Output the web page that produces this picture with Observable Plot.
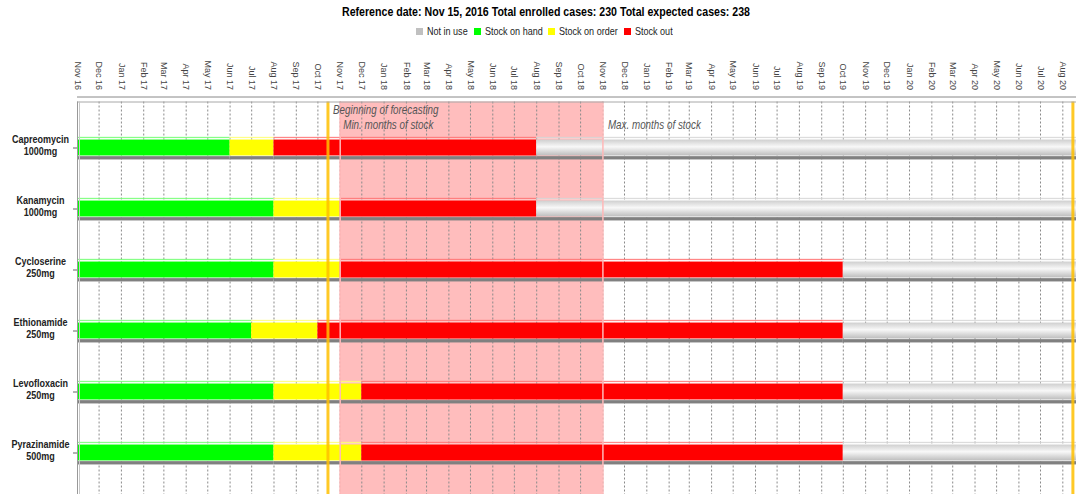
<!DOCTYPE html>
<html><head><meta charset="utf-8">
<script src="https://cdn.jsdelivr.net/npm/d3@7"></script>
<script src="https://cdn.jsdelivr.net/npm/@observablehq/plot@0.6"></script>
<style>
body{margin:0;background:#fff;font-family:'Liberation Sans',Arial,sans-serif;}
#hdr{height:40px;width:1076px;position:relative;}
#title{position:absolute;top:3px;left:342px;white-space:nowrap;font-weight:bold;font-size:13px;line-height:18px;color:#000;transform-origin:0 0;}
#legend{position:absolute;top:24px;left:416px;display:flex;align-items:center;font-size:10.5px;line-height:14px;color:#222;white-space:nowrap;}
.sw{width:7px;height:7px;display:inline-block;margin-right:4px;}
.lt{display:inline-block;transform-origin:0 50%;margin-right:6px;}
#chart svg{display:block}
</style></head><body>
<div id="hdr"><div id="title"></div><div id="legend"></div></div>
<div id="chart"></div>
<script>
// ---- data ----
const titleText = "Reference date: Nov 15, 2016 Total enrolled cases: 230 Total expected cases: 238";
const statuses = ["Not in use", "Stock on hand", "Stock on order", "Stock out"];
const statusColors = ["#c0c0c0", "#00ff00", "#ffff00", "#ff0000"];
const drugs = ["Capreomycin\n1000mg", "Kanamycin\n1000mg", "Cycloserine\n250mg", "Ethionamide\n250mg", "Levofloxacin\n250mg", "Pyrazinamide\n500mg"];
const timelineStart = "2016-11-01";
const timelineEnd = "2020-08-20";
const stockOnHandEnd = ["2017-06-01", "2017-08-01", "2017-08-01", "2017-07-01", "2017-08-01", "2017-08-01"];
const stockOnOrderEnd = ["2017-08-01", "2017-11-01", "2017-11-01", "2017-10-01", "2017-12-01", "2017-12-01"];
const stockOutEnd = ["2018-08-01", "2018-08-01", "2019-10-01", "2019-10-01", "2019-10-01", "2019-10-01"];
const tickLabels = ["Nov 16","Dec 16","Jan 17","Feb 17","Mar 17","Apr 17","May 17","Jun 17","Jul 17","Aug 17","Sep 17","Oct 17",
  "Nov 17","Dec 17","Jan 18","Feb 18","Mar 18","Apr 18","May 18","Jun 18","Jul 18","Aug 18","Sep 18","Oct 18",
  "Nov 18","Dec 18","Jan 19","Feb 19","Mar 19","Apr 19","May 19","Jun 19","Jul 19","Aug 19","Sep 19","Oct 19",
  "Nov 19","Dec 19","Jan 20","Feb 20","Mar 20","Apr 20","May 20","Jun 20","Jul 20","Aug 20"];
const forecastWindow = ["2017-11-01", "2018-11-01"];
const markerDates = ["2017-10-15", "2020-08-15"];
const annotationTexts = ["Beginning of forecasting", "Min. months of stock", "Max. months of stock"];
const annotationDates = ["2017-10-15", "2017-11-01", "2018-11-01"];

// ---- build ----
const FONT = "'Liberation Sans',Arial,sans-serif";
const NARROW = 0.82;
const D = s => new Date(s + "T00:00:00Z");
const colorOf = s => statusColors[statuses.indexOf(s)];
const tickDates = tickLabels.map(d3.utcParse("%b %y"));

// title, fitted to the reference's condensed width
const titleEl = document.getElementById("title");
titleEl.textContent = titleText;
// legend
const leg = document.getElementById("legend");
statuses.forEach((s, i) => {
  const sw = document.createElement("span"); sw.className = "sw"; sw.style.background = statusColors[i];
  const tx = document.createElement("span"); tx.className = "lt"; tx.textContent = s;
  leg.append(sw, tx);
});

const segments = drugs.flatMap((d, i) => [
  {drug: d, start: D(timelineStart), end: D(stockOnHandEnd[i]), status: "Stock on hand"},
  {drug: d, start: D(stockOnHandEnd[i]), end: D(stockOnOrderEnd[i]), status: "Stock on order"},
  {drug: d, start: D(stockOnOrderEnd[i]), end: D(stockOutEnd[i]), status: "Stock out"},
  {drug: d, start: D(stockOutEnd[i]), end: D(timelineEnd), status: "Not in use"}
]);

const step = 61.7, half = step / 2;
const layer = (top, bottom) => ({insetTop: half + top, insetBottom: half - bottom});

const bodyFill = d => d.status === "Not in use" ? "url(#grayGrad)" : colorOf(d.status);
const stripe1 = d => d.status === "Not in use" ? "#d6d6d6" : d3.interpolateRgb(colorOf(d.status), "#fff")(0.45);
const stripe2 = d => d.status === "Not in use" ? "#f4f4f4" : d3.interpolateRgb(colorOf(d.status), "#fff")(0.85);

const top0 = 106, topN = 414.5;
const chart = Plot.plot({
  width: 1076,
  height: 454,
  marginLeft: 77,
  marginRight: 0,
  marginTop: 61.5,
  marginBottom: 0,
  style: {fontFamily: FONT, background: "#fff", overflow: "visible"},
  x: {type: "utc", domain: [D(timelineStart), D(timelineEnd)], axis: null},
  y: {type: "band", domain: drugs, range: [top0 - half, topN + half], padding: 0, axis: null},
  color: {type: "identity"},
  marks: [
    Plot.rect([forecastWindow], {x1: d => D(d[0]), x2: d => D(d[1]), fill: "#ff0000", fillOpacity: 0.26}),
    Plot.ruleX(tickDates.slice(1), {stroke: "#8a8a8a", strokeWidth: 1, strokeDasharray: "2,2"}),
    Plot.barX(segments, {x1: "start", x2: "end", y: "drug", fill: "#808080", ...layer(8.3, 12.3)}),
    Plot.barX(segments, {x1: "start", x2: "end", y: "drug", fill: bodyFill, ...layer(-8.3, 8.3)}),
    Plot.barX(segments, {x1: "start", x2: "end", y: "drug", fill: stripe1, ...layer(-11, -9.3)}),
    Plot.barX(segments, {x1: "start", x2: "end", y: "drug", fill: stripe2, ...layer(-9.3, -8.3)}),
    Plot.ruleX(forecastWindow, {x: D, stroke: "#ffb8b8", strokeWidth: 1.5}),
    Plot.ruleX(markerDates, {x: D, stroke: "#ffc000", strokeOpacity: 0.85, strokeWidth: 3}),
    Plot.text([annotationTexts[0]], {x: D(annotationDates[0]), frameAnchor: "top", lineAnchor: "bottom", textAnchor: "start", dx: 5, dy: 11.5, fontSize: 12, fontStyle: "italic", fill: "#555"}),
    Plot.text([annotationTexts[1]], {x: D(annotationDates[1]), frameAnchor: "top", lineAnchor: "bottom", textAnchor: "start", dx: 3, dy: 26.5, fontSize: 12, fontStyle: "italic", fill: "#555"}),
    Plot.text([annotationTexts[2]], {x: D(annotationDates[2]), frameAnchor: "top", lineAnchor: "bottom", textAnchor: "start", dx: 5, dy: 26.5, fontSize: 12, fontStyle: "italic", fill: "#555"}),
    Plot.frame({anchor: "top", stroke: "#a8a8a8"}),
    Plot.frame({anchor: "left", stroke: "#999"}),
    Plot.frame({anchor: "left", stroke: "#c8c8c8", dx: 2}),
    Plot.frame({anchor: "top", stroke: "#888", dy: -5}),
    Plot.axisX({anchor: "top", ticks: tickDates, tickFormat: d3.utcFormat("%b %y"), tickRotate: 90, tickSize: 0, tickPadding: 12, fontSize: 9, fill: "#444", label: null}),
    Plot.axisY({anchor: "left", tickSize: 4, tickFormat: () => "", stroke: "#666", label: null}),
    Plot.text(drugs, {y: d => d, text: d => d, frameAnchor: "left", dx: -37, dy: -3, textAnchor: "middle", fontWeight: "bold", fontSize: 11, lineHeight: 1.14, fill: "#222"})
  ]
});

chart.insertAdjacentHTML("afterbegin",
  `<defs><linearGradient id="grayGrad" x1="0" y1="0" x2="0" y2="1">
     <stop offset="0" stop-color="#cfcfcf"/>
     <stop offset="0.45" stop-color="#f8f8f8"/>
     <stop offset="1" stop-color="#bdbdbd"/>
   </linearGradient></defs>`);

// condense the plain text marks (drug labels, annotations) like the reference's narrow face
chart.querySelectorAll('g[aria-label="text"] text').forEach(t => {
  const tr = t.getAttribute("transform") || "";
  const x = +t.getAttribute("x") || 0, y = +t.getAttribute("y") || 0;
  t.removeAttribute("x"); t.removeAttribute("y");
  t.setAttribute("transform", `${tr} translate(${x},${y}) scale(${NARROW},1)`);
});
document.getElementById("chart").append(chart);

// fit the title and legend texts to the reference widths
const tw = titleEl.getBoundingClientRect().width;
titleEl.style.transform = `scaleX(${408 / tw})`;
leg.querySelectorAll(".lt").forEach(el => {
  const w = el.getBoundingClientRect().width;
  el.style.width = (w * 0.86) + "px";
  el.style.transform = "scaleX(0.86)";
});
</script>
</body></html>
